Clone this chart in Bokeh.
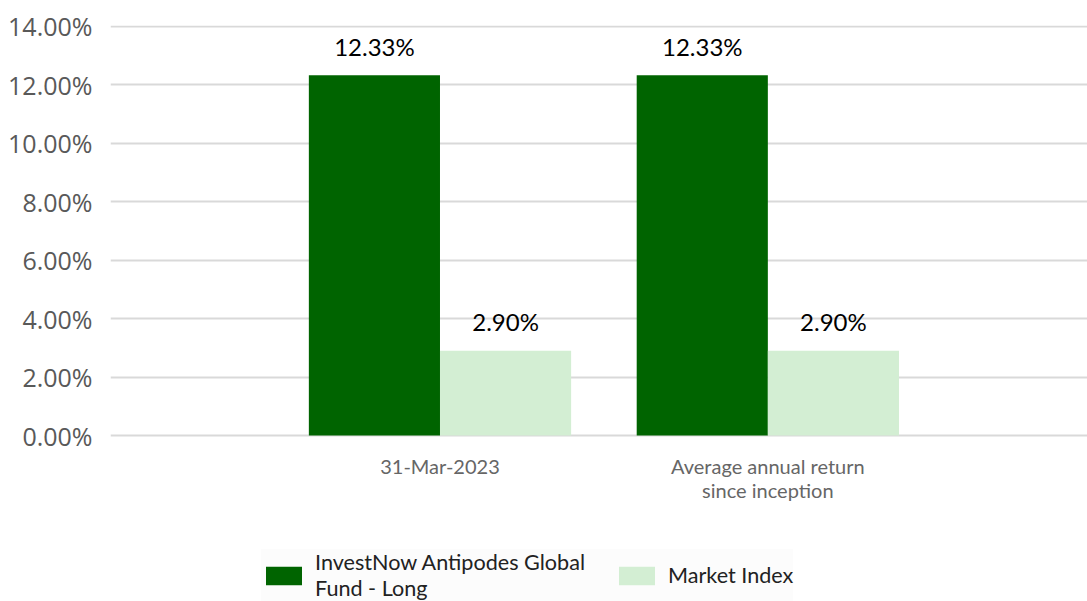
from bokeh.plotting import figure
from bokeh.models import (ColumnDataSource, Range1d, FixedTicker, PrintfTickFormatter,
                          Legend, LegendItem)
from bokeh.core.properties import value
from bokeh.embed import file_html
from bokeh.resources import INLINE

# ---- data ----
categories = ["31-Mar-2023", "Average annual return\nsince inception"]
series_names = ["InvestNow Antipodes Global\nFund - Long", "Market Index"]
fund_values = [12.33, 12.33]
index_values = [2.90, 2.90]
y_ticks = [0, 2, 4, 6, 8, 10, 12, 14]

DARK = "#006400"
LIGHT = "#d3eed3"

positions = [i + 1 for i in range(len(categories))]

# frame spans the full height; values below 0 hold category labels and legend
p = figure(width=1087, height=601, output_backend="svg", toolbar_location=None,
           x_axis_location=None,
           x_range=Range1d(-0.005, 2.975), y_range=Range1d(-5.682, 14.034),
           min_border_left=110, min_border_right=0, min_border_top=25,
           min_border_bottom=0)
p.outline_line_color = None
p.background_fill_color = "white"
p.border_fill_color = "white"

fund_src = ColumnDataSource(dict(x=[c - 0.2 for c in positions], top=fund_values,
                                 lab=[f"{v:.2f}%" for v in fund_values]))
idx_src = ColumnDataSource(dict(x=[c + 0.2 for c in positions], top=index_values,
                                lab=[f"{v:.2f}%" for v in index_values]))
cat_src = ColumnDataSource(dict(x=positions, y=[0] * len(positions), lab=categories))

r1 = p.vbar(x="x", top="top", bottom=0, width=0.4, source=fund_src,
            fill_color=DARK, line_color=None)
r2 = p.vbar(x="x", top="top", bottom=0, width=0.4, source=idx_src,
            fill_color=LIGHT, line_color=None)

for src in (fund_src, idx_src):
    p.text(x="x", y="top", text="lab", source=src, text_align="center",
           text_baseline="middle", y_offset=-29, text_font=value("Lato"),
           text_font_size="24px", text_color="#000000")

# category labels under the baseline
p.text(x="x", y="y", text="lab", source=cat_src, text_align="center",
       text_baseline="top", y_offset=18, text_font=value("Lato"),
       text_font_size="20px", text_color="#666666", text_line_height=1.0)

p.yaxis.ticker = FixedTicker(ticks=y_ticks)
p.yaxis.formatter = PrintfTickFormatter(format="%.2f%%")
p.yaxis.axis_line_color = None
p.yaxis.major_tick_line_color = None
p.yaxis.minor_tick_line_color = None
p.yaxis.major_label_text_font = "Open Sans"
p.yaxis.major_label_text_font_size = "25px"
p.yaxis.major_label_text_color = "#595959"
p.yaxis.major_label_standoff = 12

p.xgrid.grid_line_color = None
p.ygrid.ticker = FixedTicker(ticks=y_ticks)
p.ygrid.grid_line_color = "#d9d9d9"
p.ygrid.grid_line_width = 2

legend = Legend(items=[LegendItem(label=series_names[0], renderers=[r1]),
                       LegendItem(label=series_names[1], renderers=[r2])],
                orientation="horizontal", location=(151, 0),
                glyph_width=45, glyph_height=23, label_standoff=9, spacing=29,
                padding=3, margin=0,
                label_text_font="Lato", label_text_font_size="21.6px",
                label_text_color="#222222", label_text_line_height=1.15,
                background_fill_color="#fcfcfc", background_fill_alpha=1.0,
                border_line_color=None)
p.add_layout(legend, "center")

open("out.html", "w").write(file_html(p, INLINE))
